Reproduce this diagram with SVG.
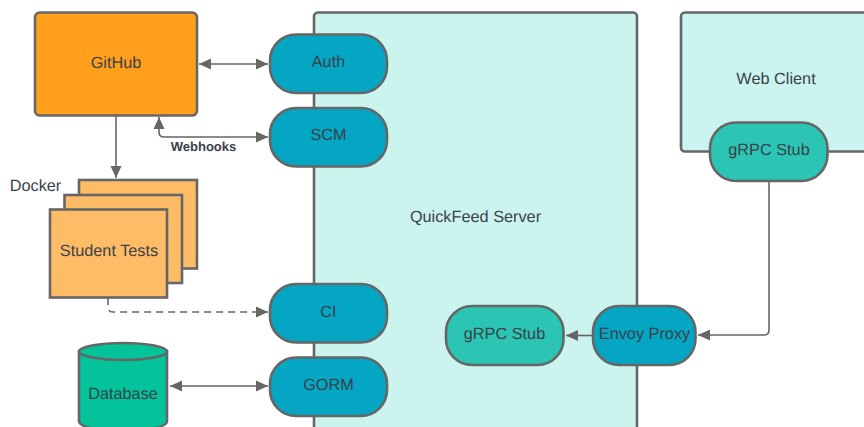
<svg xmlns="http://www.w3.org/2000/svg" width="864" height="427" viewBox="0 0 864 427">
<style>
.s{stroke:#666;stroke-width:2.6}
.c{fill:none;stroke:#666;stroke-width:1.6}
text{font-family:"Liberation Sans",Arial,sans-serif;font-size:16.300px;fill:#3a414a;text-anchor:middle;text-rendering:geometricPrecision}
.b{fill:#05a5c4}
.g{fill:#2cc5b3}
.o{fill:#ffbc66}
.p{fill:#ccf4ef}
</style>
<defs>
<marker id="a" markerUnits="userSpaceOnUse" markerWidth="13" markerHeight="12" refX="12" refY="6" orient="auto-start-reverse"><path d="M0 0.500L12 6L0 11.500Z" fill="#666"/></marker>
</defs>
<rect width="864" height="427" fill="#fff"/>
<g id="server"><rect class="s p" x="314" y="12.500" width="323" height="430" rx="4"/><text x="475.500" y="222">QuickFeed Server</text></g>
<g id="webclient"><rect class="s p" x="681" y="12.500" width="200" height="139" rx="4"/><text x="776" y="83.700">Web Client</text></g>
<g id="connectors">
<path class="c" d="M199 64H268" marker-start="url(#a)" marker-end="url(#a)"/>
<path class="c" d="M159 117V132Q159 137 164 137H268" marker-start="url(#a)" marker-end="url(#a)"/>
<path class="c" d="M116 115V178" marker-end="url(#a)"/>
<path class="c" d="M108 298V307Q108 312 113 312H268" stroke-dasharray="7 5" marker-end="url(#a)"/>
<path class="c" d="M170 386H268" marker-start="url(#a)" marker-end="url(#a)"/>
<path class="c" d="M769 181V330Q769 335 764 335H698" marker-end="url(#a)"/>
<path class="c" d="M592 335.500H566" marker-end="url(#a)"/>
</g>
<g id="github"><rect class="s" fill="#ff9f1c" x="35" y="12.500" width="162" height="103" rx="5"/><text x="116" y="67.700">GitHub</text></g>
<g id="auth"><rect class="s b" x="270" y="34.500" width="117" height="58.500" rx="26"/><text x="328.500" y="66.800">Auth</text></g>
<g id="scm"><rect class="s b" x="270" y="108" width="117" height="58.500" rx="26"/><text x="328.500" y="140">SCM</text></g>
<g id="ci"><rect class="s b" x="270" y="284" width="117" height="58.500" rx="26"/><text x="328.500" y="316.800">CI</text></g>
<g id="gorm"><rect class="s b" x="270" y="357.500" width="117" height="58.500" rx="26"/><text x="328.500" y="390">GORM</text></g>
<g id="docker">
<rect class="s o" x="79" y="180" width="118" height="88.500"/>
<rect class="s o" x="64.500" y="195" width="117.500" height="88"/>
<rect class="s o" x="50" y="209.500" width="117" height="88"/>
<text x="109" y="256">Student Tests</text>
<text x="35.500" y="191">Docker</text>
</g>
<g id="database">
<path class="s" fill="#02c39a" d="M79 351.500V421Q79 430 123 430T167 421V351.500Z"/>
<ellipse class="s" fill="#02c39a" cx="123" cy="351.500" rx="44" ry="8.500"/>
<text x="123" y="398.500">Database</text>
</g>
<g id="stub-server"><rect class="s g" x="446" y="306" width="117.500" height="59" rx="26"/><text x="504.500" y="339">gRPC Stub</text></g>
<g id="envoy"><rect class="s b" x="593" y="306" width="102.500" height="59" rx="26"/><text x="644.500" y="339">Envoy Proxy</text></g>
<g id="stub-web"><rect class="s g" x="710" y="122.500" width="117.500" height="58.500" rx="26"/><text x="769" y="155">gRPC Stub</text></g>
<text x="203.500" y="151" style="font-size:13px;font-weight:700">Webhooks</text>
</svg>
